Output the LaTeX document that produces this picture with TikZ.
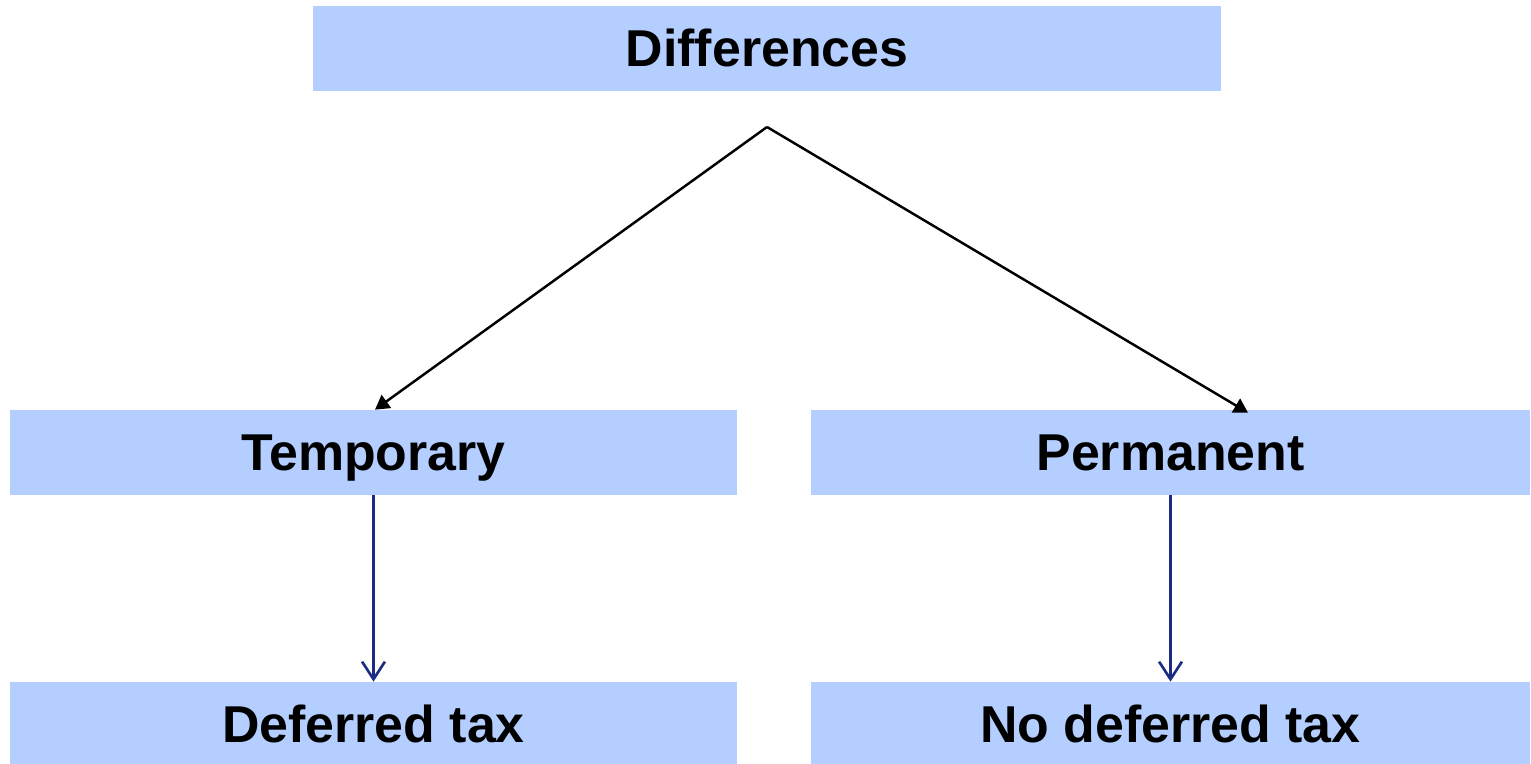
\documentclass[tikz,border=0pt]{standalone}
\usepackage{fontspec}
\setmainfont{Liberation Sans}
\usetikzlibrary{arrows.meta,calc,positioning}
\definecolor{boxblue}{RGB}{180,207,255}
\definecolor{linkblue}{RGB}{28,44,130}

\begin{document}
\begin{tikzpicture}[box/.style={rectangle, fill=boxblue, inner sep=0pt, minimum height=1.7cm, text height=21pt, text depth=0pt, font=\fontsize{29.5}{34}\selectfont\bfseries},
  split/.style={line width=1.4pt, -{Triangle[length=8pt,width=9pt]}},
  result/.style={draw=linkblue, line width=1.5pt, -{Straight Barb[length=10pt,width=13pt,line width=1.5pt]}}]
  \useasboundingbox (0,0) rectangle (30.62,-15.28);
  \node[box, minimum width=18.16cm] (diff) at (15.34,-0.97) {Differences};
  \node[box, minimum width=14.54cm] (temp) at (7.47,-9.05) {Temporary};
  \node[box, minimum width=14.38cm] (perm) at (23.41,-9.05) {Permanent};
  \node[box, minimum width=14.54cm] (def) at (7.47,-14.49) {Deferred tax};
  \node[box, minimum width=14.38cm] (nodef) at (23.41,-14.49) {No deferred tax};
  \coordinate (apex) at (15.34,-2.54);
  \draw[split] (apex) -- ($(temp.north)+(0.03,0)$);
  \draw[split] (apex) -- ($(perm.north)+(1.55,-0.06)$);
  \draw[result] (temp.south) -- (def.north);
  \draw[result] (perm.south) -- (nodef.north);
\end{tikzpicture}
\end{document}
